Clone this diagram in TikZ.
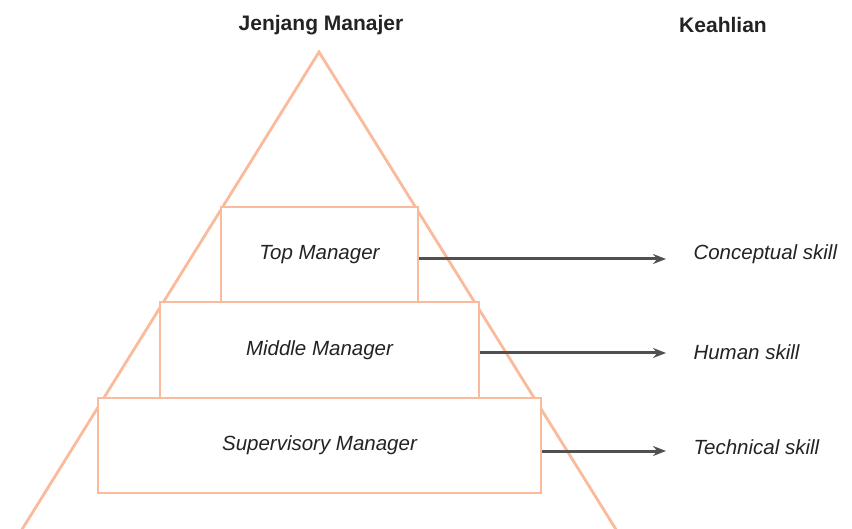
\documentclass[tikz,border=0pt]{standalone}
\usepackage{fontspec}
\setmainfont{Liberation Sans}
\usetikzlibrary{arrows.meta}

\definecolor{salmon}{RGB}{250,186,156}
\definecolor{arrowgray}{RGB}{80,80,80}
\definecolor{textgray}{RGB}{35,35,35}

\tikzset{
    level/.style={draw=salmon, line width=2.8pt, text=textgray, font=\itshape\fontsize{20.5}{23}\selectfont, inner sep=0pt},
    skill/.style={anchor=west, text=textgray, font=\itshape\fontsize{20.5}{23}\selectfont},
    heading/.style={text=textgray, font=\bfseries\fontsize{21}{24}\selectfont},
    link/.style={-{Stealth[length=13pt,width=10pt]}, draw=arrowgray, line width=3pt}
}

\begin{document}
\begin{tikzpicture}[x=1pt, y=-1pt]
    \useasboundingbox (0,0) rectangle (852,529);

    % Pyramid
    \begin{scope}
        \clip (0,0) rectangle (852,529);
        \draw[salmon, line width=2.8pt, line join=miter] (3,560) -- (319,52) -- (635,560);
    \end{scope}

    % Headings
    \node[heading] (jenjang) at (321,25) {Jenjang Manajer};
    \node[heading] (keahlian) at (723,25) {Keahlian};

    % Manager levels
    \node[level, fill=white, minimum width=197pt, minimum height=95pt] (top) at (319.5,254.5) {Top Manager};
    \node[level, fill=white, minimum width=319pt, minimum height=96pt] (middle) at (319.5,350) {Middle Manager};
    \node[level, fill=white, minimum width=443pt, minimum height=95pt] (super) at (319.5,445.5) {Supervisory Manager};

    % Skills
    \node[skill] (conceptual) at (690,254) {Conceptual skill};
    \node[skill] (human) at (690,352) {Human skill};
    \node[skill] (technical) at (690,447) {Technical skill};

    % Arrows
    \coordinate (c1) at (666,259);
    \coordinate (c2) at (666,353);
    \coordinate (c3) at (666,451);
    \draw[link] (top.east |- c1) -- (c1);
    \draw[link] (middle.east |- c2) -- (c2);
    \draw[link] (super.east |- c3) -- (c3);
\end{tikzpicture}
\end{document}
